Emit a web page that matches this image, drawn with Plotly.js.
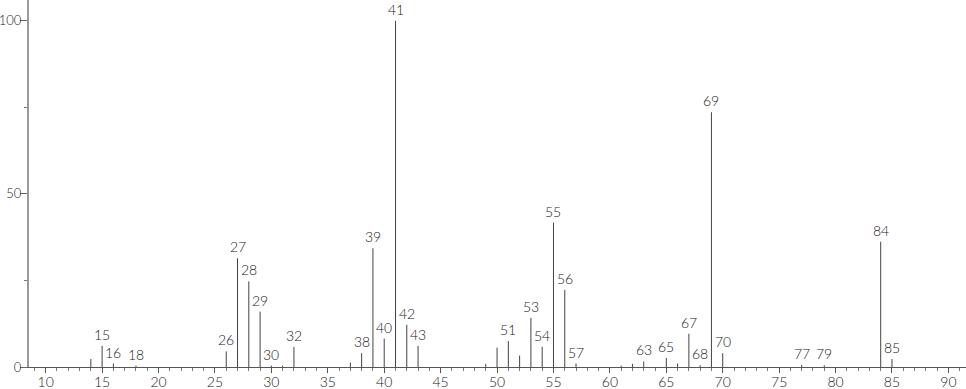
<!DOCTYPE html>
<html><head><meta charset="utf-8">
<script src="https://cdn.plot.ly/plotly-3.0.1.min.js"></script>
<style>html,body{margin:0;padding:0;background:#fff}#chart{width:966px;height:389px}</style>
</head><body><div id="chart"></div>
<script>
// m/z values and relative intensities
const mz = [14,15,16,18,26,27,28,29,30,31,32,37,38,39,40,41,42,43,49,50,51,52,53,54,55,56,57,61,62,63,65,66,67,68,69,70,77,79,84,85];
const intensity = [2.3,6.1,1.0,0.4,4.5,31.4,24.7,16.0,0.4,0.4,5.8,1.3,4.0,34.3,8.2,100,12.2,6.1,0.9,5.6,7.5,3.3,14.2,5.8,41.7,22.3,1.0,0.4,0.9,1.6,2.6,1.0,9.6,0.5,73.6,4.0,0.6,0.5,36.2,2.3];
const labeled = [15,16,18,26,27,28,29,30,32,38,39,40,41,42,43,51,53,54,55,56,57,63,65,67,68,69,70,77,79,84,85];
const xTickVals = [10,15,20,25,30,35,40,45,50,55,60,65,70,75,80,85,90];
const yTickVals = [0,50,100];

const lx = [], ly = [];
mz.forEach((m, i) => { lx.push(m, m, null); ly.push(0, intensity[i], null); });

const FONT = 'Lato, "Open Sans", sans-serif';
const annotations = labeled.map(m => {
  const v = intensity[mz.indexOf(m)];
  return {x: m, y: v, text: String(m), showarrow: false, xanchor: 'center', yanchor: 'bottom',
          yshift: 1, font: {family: FONT, size: 14, color: '#222', weight: 300}};
});

const trace = {x: lx, y: ly, mode: 'lines', type: 'scatter', line: {color: '#444', width: 1}, hoverinfo: 'skip', connectgaps: false};

const layout = {
  width: 966, height: 389,
  margin: {l: 29, r: 0, t: 0, b: 22, pad: 0},
  paper_bgcolor: '#fff', plot_bgcolor: '#fff',
  showlegend: false,
  font: {family: FONT, size: 14, color: '#222', weight: 300},
  xaxis: {range: [8.52, 91.56], tickmode: 'array', tickvals: xTickVals, ticktext: xTickVals.map(String),
          ticks: 'outside', ticklen: 5, tickwidth: 1, tickcolor: '#555', ticklabelstandoff: -3,
          minor: {dtick: 1, tick0: 0, ticks: 'outside', ticklen: 3, tickcolor: '#777', showgrid: false},
          showline: true, linecolor: '#555', linewidth: 1, showgrid: false, zeroline: false,
          tickfont: {family: FONT, size: 14, color: '#222', weight: 300}},
  yaxis: {range: [0, 106], tickmode: 'array', tickvals: yTickVals, ticktext: yTickVals.map(String),
          ticks: 'outside', ticklen: 7, tickwidth: 1, tickcolor: '#666', ticklabelstandoff: -4,
          minor: {dtick: 25, tick0: 0, ticks: 'outside', ticklen: 3, tickcolor: '#777', showgrid: false},
          showline: true, linecolor: '#999', linewidth: 2, showgrid: false, zeroline: false,
          tickfont: {family: FONT, size: 13, color: '#222', weight: 300}},
  annotations: annotations
};

Plotly.newPlot('chart', [trace], layout, {displayModeBar: false, staticPlot: true});
</script></body></html>
